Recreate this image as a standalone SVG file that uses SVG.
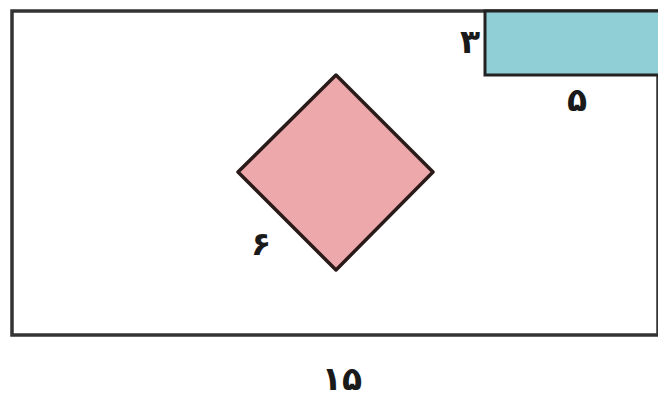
<svg xmlns="http://www.w3.org/2000/svg" width="658" height="398" viewBox="0 0 658 398">
<style>
.lbl{font-family:"DejaVu Sans","Noto Sans",sans-serif;font-weight:bold;font-size:33px;fill:#1a1a1a;text-anchor:middle}
</style>
<rect width="658" height="398" fill="#ffffff"/>
<g id="outer">
<rect x="12" y="11" width="646" height="324" fill="#ffffff" stroke="#333333" stroke-width="3.5"/>
</g>
<g id="blue">
<path d="M660,11 H485 V75 H660" fill="#91cfd6" stroke="#222222" stroke-width="3"/>
</g>
<g id="diamond">
<polygon points="336,75 433,172 336,270 238,172" fill="#eca8aa" stroke="#2a1a1a" stroke-width="3.5" stroke-linejoin="round"/>
</g>
<g id="labels">
<text class="lbl" x="470" y="53">۳</text>
<text class="lbl" x="577" y="111">۵</text>
<text class="lbl" x="261" y="255">۶</text>
<text class="lbl" x="342" y="390">۱۵</text>
</g>
</svg>
